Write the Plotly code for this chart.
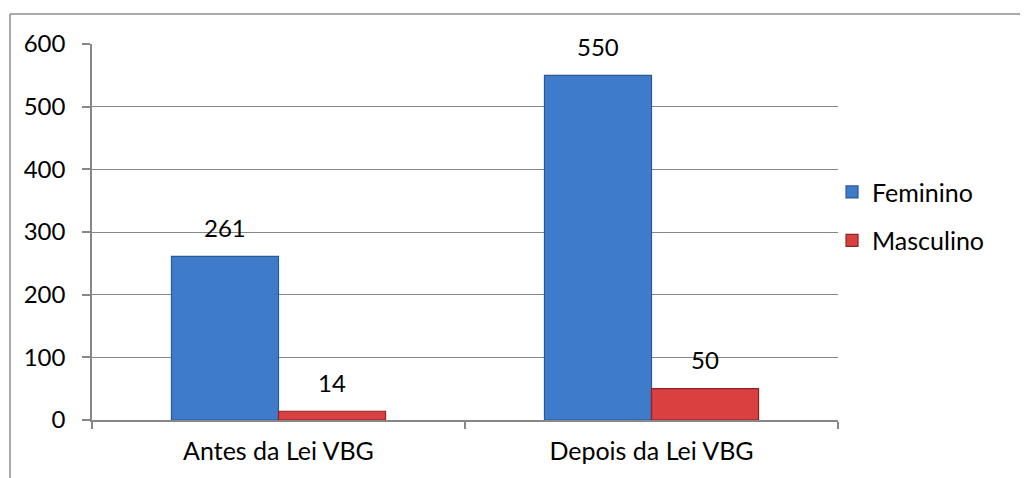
import plotly.graph_objects as go

categories = ["Antes da Lei VBG", "Depois da Lei VBG"]
feminino = [261, 550]
masculino = [14, 50]
series_names = ["Feminino", "Masculino"]
y_ticks = [0, 100, 200, 300, 400, 500, 600]

FONT = "Lato, 'Open Sans', sans-serif"
GRAY = "#878787"

fig = go.Figure()
fig.add_trace(go.Bar(
    x=categories, y=feminino, name=series_names[0], legendgroup="f",
    marker=dict(color="#3E7BCB", line=dict(color="#2A5A95", width=1.2)),
))
fig.add_trace(go.Bar(
    x=categories, y=masculino, name=series_names[1], legendgroup="m",
    marker=dict(color="#D8413F", line=dict(color="#8F2222", width=1.2)),
))

annotations = []
for cat, vf, vm in zip(categories, feminino, masculino):
    for v, shift in ((vf, -53.5), (vm, 53.5)):
        annotations.append(dict(
            x=cat, y=v, xref="x", yref="y", text=str(v), showarrow=False,
            xshift=shift, yshift=29, yanchor="middle",
            font=dict(family=FONT, size=24, color="#000000"),
        ))

# layout in figure-local pixels (page has an 8px body margin)
px_l, px_r, px_t, px_b = 84, 830, 36, 412
W = px_r - px_l
H = px_b - px_t
bx = (2 - px_l) / W
by = (px_b - 6) / H
shapes = [
    dict(type="line", xref="paper", yref="paper", x0=bx, x1=(1040 - px_l) / W, y0=by, y1=by,
         line=dict(color="#8C8C8C", width=1.5)),
    dict(type="line", xref="paper", yref="paper", x0=bx, x1=bx, y0=by, y1=(px_b - 490) / H,
         line=dict(color="#8C8C8C", width=1.5)),
]

fig.update_layout(
    width=1028, height=478,
    margin=dict(l=px_l, r=1028 - px_r, t=px_t, b=478 - px_b),
    paper_bgcolor="white", plot_bgcolor="white",
    barmode="group", bargap=0.426, bargroupgap=0,
    font=dict(family=FONT, size=24, color="#000000"),
    showlegend=True,
    legend=dict(x=0.992, xanchor="left", y=0.667, yanchor="top",
                font=dict(family=FONT, size=25, color="#000000"),
                tracegroupgap=13, bgcolor="rgba(0,0,0,0)", itemwidth=30),
    annotations=annotations,
    shapes=shapes,
    xaxis=dict(
        type="category", showline=True, linecolor=GRAY, linewidth=1.5,
        ticks="outside", tickson="boundaries", ticklen=7, tickcolor=GRAY, tickwidth=1.5,
        tickfont=dict(family=FONT, size=25, color="#000000"),
        ticklabelstandoff=8,
        showgrid=False, zeroline=False, fixedrange=True,
    ),
    yaxis=dict(
        range=[0, 600], tickvals=y_ticks, showline=True, linecolor=GRAY, linewidth=1.5,
        ticks="outside", ticklen=8, tickcolor=GRAY, tickwidth=1.5,
        showgrid=True, gridcolor=GRAY, gridwidth=1.2, zeroline=False,
        tickfont=dict(family=FONT, size=24, color="#000000"),
        ticklabelstandoff=12,
    ),
)

fig.write_html("out.html")
